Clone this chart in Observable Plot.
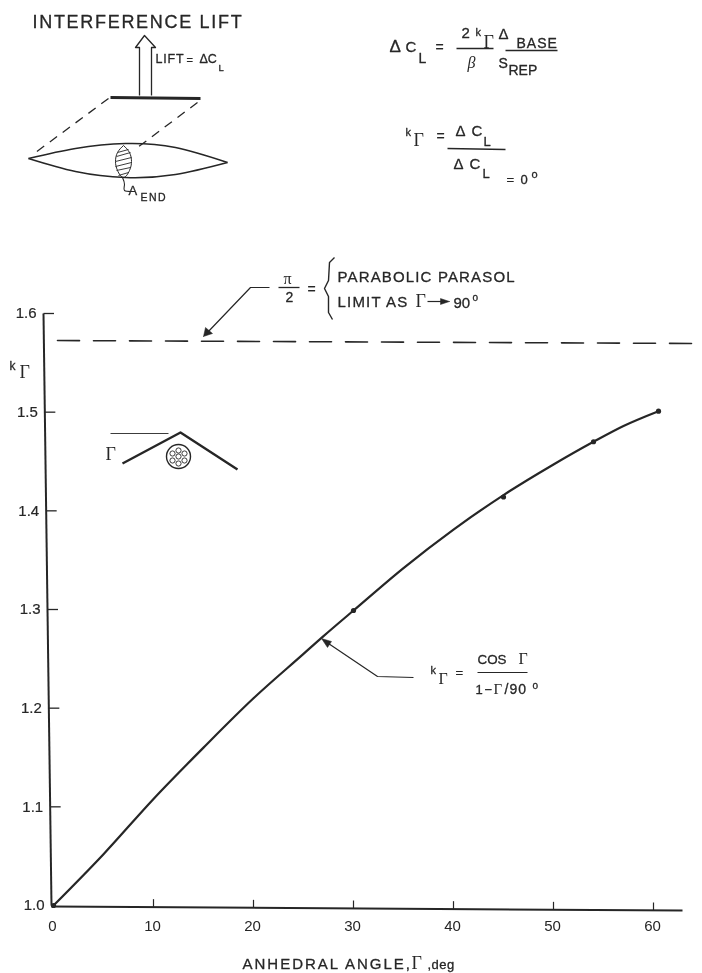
<!DOCTYPE html>
<html>
<head>
<meta charset="utf-8">
<script src="https://cdn.jsdelivr.net/npm/d3@7"></script>
<script src="https://cdn.jsdelivr.net/npm/@observablehq/plot@0.6"></script>
<style>
html,body{margin:0;padding:0;background:#fff}
svg{display:block;filter:blur(0.6px)}
</style>
</head>
<body>
<div id="chart"></div>
<script>
// Values
const curveAngle = [0, 5, 10, 15, 20, 25, 27, 30, 35, 40, 45, 50, 54, 57, 60.5];
const curveK = [1.0, 1.052, 1.108, 1.16, 1.21, 1.255, 1.273, 1.299, 1.342, 1.381, 1.416, 1.447, 1.47, 1.486, 1.501];
const markedAngle = [0, 30, 45, 54, 60.5];
const markedK = [1.0, 1.299, 1.414, 1.47, 1.501];
const limitAngle = [0.4, 64.9];
const limitK = [1.5726, 1.5696];
const xTicks = [0, 10, 20, 30, 40, 50, 60];
const yTicks = [1.0, 1.1, 1.2, 1.3, 1.4, 1.5, 1.6];

const ink = "#262626";
const sans = "Liberation Sans, Arial, sans-serif";
const serif = "Liberation Serif, Times New Roman, serif";

// picture position -> data, for the annotation drawing that sits round the chart
const X = d3.scaleLinear().domain([53, 653]).range([0, 60]);
const Y = d3.scaleLinear().domain([905, 313]).range([1, 1.6]);
const P = (pts) => pts.map(([a, b]) => ({x: X(a), y: Y(b)}));
const axisPx = (py) => 43 + (py - 313) * 8 / 592;

const stroke = (pts, o = {}) => Plot.line(P(pts), {x: "x", y: "y", stroke: o.color ?? ink, strokeWidth: o.w ?? 1.2,
  strokeDasharray: o.dash, curve: o.curve ?? "linear", strokeLinecap: "butt"});
const solid = (pts) => Plot.line(P(pts), {x: "x", y: "y", fill: ink, stroke: ink, strokeWidth: 0.5});
const label = (t, a, b, o = {}) => Plot.text([{x: X(a), y: Y(b)}], {x: "x", y: "y", text: () => t, fill: ink,
  stroke: o.font === serif ? undefined : ink, strokeWidth: o.font === serif ? undefined : (o.heavy ?? 0.3),
  fontSize: o.size ?? 12, fontFamily: o.font ?? sans, fontWeight: o.weight ?? "normal", fontStyle: o.style ?? "normal",
  textAnchor: o.anchor ?? "start", lineAnchor: "bottom",
  render: (i, s, v, d, c, next) => {
    const g = next(i, s, v, d, c);
    if (o.ls) g.style.letterSpacing = o.ls + "px";
    return g;
  }});

const hatch = [[117,152,128,149],[116,156,130,152],[115,161,131,157],[115,166,131,162],[116,170,130,167],[118,175,128,172]]
  .map(([a, b, c, d]) => stroke([[a,b],[c,d]], {w: 0.9}));

const hex = [[178,450],[172,453],[184,453],[172,460],[184,460],[178,463],[178,456]].map(([a,b]) =>
  Plot.dot([{x: X(a), y: Y(b)}], {x: "x", y: "y", r: 2.6, stroke: ink, strokeWidth: 0.9}));

const chart = Plot.plot({
  width: 702, height: 973,
  marginLeft: 53, marginRight: 49, marginTop: 313, marginBottom: 68,
  x: {domain: [0, 60], axis: null},
  y: {domain: [1, 1.6], axis: null},
  style: {background: "#fff", overflow: "visible"},
  marks: [
    // axes
    Plot.axisX(xTicks, {anchor: "bottom", tickSize: 0, tickPadding: 15, dx: -1, fontSize: 15, fontFamily: sans, color: ink, label: null, tickFormat: d3.format("d")}),
    Plot.text(yTicks, {x: d => X(axisPx(Y.invert(d)) - 7), y: d => d, text: d3.format(".1f"), textAnchor: "end", fontSize: 15, fontFamily: sans, fill: ink, stroke: ink, strokeWidth: 0.2}),
    stroke([[43,313],[51,905]], {w: 2}),
    stroke([[51,906],[682,910]], {w: 2}),
    Plot.link(xTicks.slice(1), {x1: d => d, x2: d => d, y1: d => Y(906 + 4 * d / 60), y2: d => Y(898 + 4 * d / 60), stroke: ink, strokeWidth: 1.2}),
    Plot.link(yTicks.slice(1), {x1: d => X(axisPx(Y.invert(d))), x2: d => X(axisPx(Y.invert(d)) + 10.5), y1: d => d, y2: d => d, stroke: ink, strokeWidth: 1.3}),

    // limit and curve
    Plot.line(limitAngle.map((a, i) => ({a, k: limitK[i]})), {x: "a", y: "k", stroke: ink, strokeWidth: 1.6, strokeDasharray: "22 14"}),
    Plot.line(curveAngle.map((a, i) => ({a, k: curveK[i]})), {x: "a", y: "k", stroke: ink, strokeWidth: 2.2, curve: "monotone-x"}),
    Plot.dot(markedAngle.map((a, i) => ({a, k: markedK[i]})), {x: "a", y: "k", r: 2.6, fill: ink}),

    // axis titles
    label("ANHEDRAL ANGLE,", 242, 968, {size: 15, ls: 2}),
    label("Γ", 411, 968, {size: 18, font: serif}),
    label(",deg", 427, 968, {size: 13, ls: 0.5}),
    label("k", 9, 369, {size: 12}),
    label("Γ", 19, 377, {size: 18, font: serif}),

    // top-left diagram
    label("INTERFERENCE LIFT", 32, 27, {size: 18, ls: 1.7}),
    stroke([[139,95],[139,47],[135,47],[144,35],[155,47],[151,47],[151,95]], {w: 1.3}),
    label("LIFT", 155, 62, {size: 12.5, ls: 0.8}),
    label("=", 186, 63, {size: 11}),
    label("ΔC", 199, 62, {size: 12.5}),
    label("L", 218, 70, {size: 9.5}),
    stroke([[110,97],[200,98]], {w: 3}),
    stroke([[108,98],[35,152]], {w: 1.3, dash: "9 7"}),
    stroke([[197,102],[133,150]], {w: 1.3, dash: "9 7"}),
    stroke([[28,158],[75,148],[125,143],[175,147],[227,162]], {w: 1.5, curve: "natural"}),
    stroke([[28,158],[75,171],[125,177],[175,174],[227,162]], {w: 1.5, curve: "natural"}),
    stroke([[123,145],[117,152],[115,161],[117,170],[123,177],[129,170],[131,161],[129,152],[123,145]], {w: 1, curve: "natural"}),
    ...hatch,
    stroke([[122,177],[124,184],[124,190],[133,191]], {w: 1.1, curve: "natural"}),
    label("A", 128, 194, {size: 13}),
    label("END", 140, 200, {size: 10.5, ls: 1.5}),

    // top-right formula 1
    label("Δ", 389, 51, {size: 17}),
    label("C", 405, 51, {size: 15}),
    label("L", 418, 62, {size: 14}),
    label("=", 435, 51, {size: 14}),
    label("2", 461, 37, {size: 15}),
    label("k", 475, 35, {size: 11}),
    label("Γ", 483, 47, {size: 18, font: serif}),
    label("Δ", 498, 38, {size: 15}),
    label("BASE", 516, 47, {size: 14, ls: 1}),
    stroke([[456,48],[493,48]], {w: 1.4}),
    stroke([[505,50],[557,50]], {w: 1.4}),
    label("β", 467, 67, {size: 16, font: serif, style: "italic"}),
    label("S", 498, 67, {size: 14}),
    label("REP", 508, 74, {size: 14}),

    // top-right formula 2
    label("k", 405, 135, {size: 11}),
    label("Γ", 413, 145, {size: 18, font: serif}),
    label("=", 436, 140, {size: 14}),
    label("Δ", 455, 135, {size: 15}),
    label("C", 471, 135, {size: 15}),
    label("L", 483, 145, {size: 13}),
    stroke([[447,148],[505,149]], {w: 1.4}),
    label("Δ", 453, 168, {size: 15}),
    label("C", 469, 168, {size: 15}),
    label("L", 482, 177, {size: 13}),
    label("=", 506, 183, {size: 13}),
    label("0", 520, 183, {size: 13}),
    label("o", 531, 177, {size: 11}),

    // limit annotation
    stroke([[269,287],[250,287],[206,333]], {w: 1.2}),
    solid([[203,336],[205,327],[212,333],[203,336]]),
    label("π", 283, 283, {size: 16, font: serif}),
    stroke([[278,287],[299,287]], {w: 1.3}),
    label("2", 285, 301, {size: 14}),
    label("=", 307, 293, {size: 14}),
    stroke([[334,257],[329,262],[328,280],[324,288],[328,296],[328,312],[332,319]], {w: 1.4}),
    label("PARABOLIC PARASOL", 337, 281, {size: 15, ls: 1.15}),
    label("LIMIT AS", 337, 306, {size: 15, ls: 1.2}),
    label("Γ", 415, 306, {size: 18, font: serif}),
    stroke([[427,301],[444,301]], {w: 1.2}),
    solid([[449,301],[440,298],[440,304],[449,301]]),
    label("90", 453, 307, {size: 15}),
    label("o", 472, 300, {size: 10}),

    // inset sketch
    stroke([[110,433],[168,433]], {w: 0.9}),
    stroke([[122,463],[180,432],[237,469]], {w: 2.4}),
    label("Γ", 105, 459, {size: 18, font: serif}),
    Plot.dot([{x: X(178), y: Y(456)}], {x: "x", y: "y", r: 12, stroke: ink, strokeWidth: 1.4}),
    ...hex,

    // curve annotation
    stroke([[325,641],[377,676],[413,677]], {w: 1.2}),
    solid([[321,638],[331,641],[327,647],[321,638]]),
    label("k", 430, 673, {size: 11}),
    label("Γ", 438, 683, {size: 16, font: serif}),
    label("=", 455, 676, {size: 13}),
    label("COS", 477, 663, {size: 13.4}),
    label("Γ", 518, 663, {size: 16, font: serif}),
    stroke([[477,672],[527,672]], {w: 1.2}),
    label("1", 475, 693, {size: 13}),
    label("−", 484, 693, {size: 13}),
    label("Γ", 493, 693, {size: 15, font: serif}),
    label("/90", 504, 693, {size: 14, ls: 1}),
    label("o", 532, 688, {size: 10})
  ]
});
document.getElementById("chart").append(chart);
</script>
</body>
</html>
